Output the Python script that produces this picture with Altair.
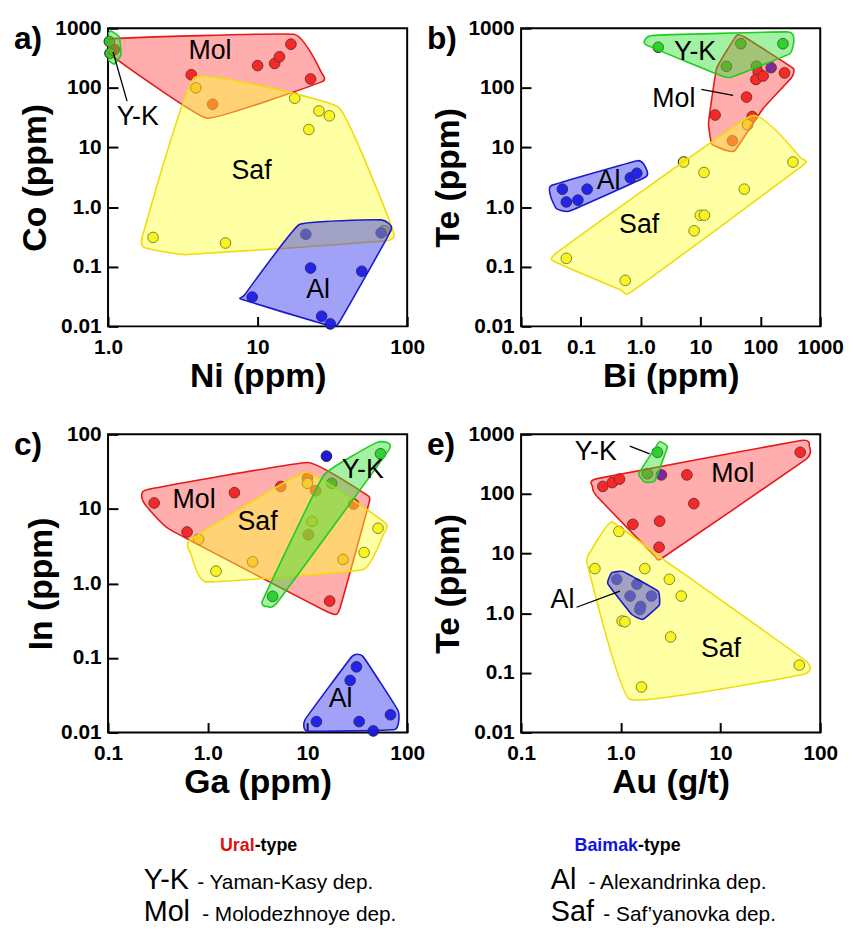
import altair as alt
import pandas as pd

FONT = "Liberation Sans"
GROUPS = ["Mol", "Saf", "Al", "Y-K"]
POINT_COLORS = ["#ee1c1c", "#f2ea14", "#1c1ce0", "#2cc42c"]
POLY_STROKE = {"Mol": "#e61919", "Saf": "#f0dc0a", "Al": "#1a1acc", "Y-K": "#1fcc1f"}
POLY_FILL = {"Mol": "#ff3b3b", "Saf": "#ffff33", "Al": "#2e2eef", "Y-K": "#33e033"}
POLY_OPACITY = {"Mol": 0.42, "Saf": 0.45, "Al": 0.45, "Y-K": 0.45}

# ---------------- panel a) Ni vs Co ----------------
A_PTS = {
    "Mol": ([1.1, 3.6, 5.0, 10, 13, 14, 16.7, 22.6], [440, 166, 53, 236, 257, 333, 540, 141]),
    "Saf": ([3.86, 17.7, 25.7, 30.2, 22, 2.0, 6.1, 70], [100, 67, 41, 34, 20, 0.31, 0.25, 0.40]),
    "Al": ([21, 67, 22.6, 49.7, 9.2, 26.8, 30.6], [0.35, 0.37, 0.095, 0.084, 0.031, 0.0148, 0.011]),
    "Y-K": ([1.02, 1.03], [600, 380]),
}
A_HULL = {
    "Mol": ([1.0, 17.5, 26.8, 26.8, 4.58, 1.05], [660, 790, 178, 126, 31, 355]),
    "Saf": ([3.8, 34.8, 80, 71, 3.38, 1.75, 1.7], [150, 47, 0.42, 0.27, 0.16, 0.21, 0.33]),
    "Al": ([19, 67, 78, 34.8, 29, 7.8, 8.2], [0.51, 0.61, 0.41, 0.0113, 0.0105, 0.0285, 0.034]),
    "Y-K": ([1.05, 1.19, 1.22, 1.1, 1.0, 1.0], [900, 710, 355, 250, 300, 800]),
}
A_LABELS = (["Mol", "Saf", "Al", "Y-K"], [4.8, 9.1, 25.4, 1.58], [410, 4.0, 0.041, 32])
A_LEADERS = ([1.34], [60], [1.08], [400])

# ---------------- panel b) Bi vs Te ----------------
B_PTS = {
    "Y-K": ([1.96, 47, 238, 27, 86], [480, 550, 550, 229, 230]),
    "Mol": ([92, 84, 111, 253, 58.6, 17.5, 73, 34], [183, 138, 158, 178, 70, 35, 33, 13]),
    "Al": ([0.049, 0.057, 0.089, 0.127, 0.67, 0.86, 151], [2.0, 1.22, 1.31, 2.0, 3.1, 3.7, 218]),
    "Saf": ([61, 5.2, 350, 11.4, 53.7, 9.9, 11.6, 7.8, 0.057, 0.55],
            [24, 5.7, 5.7, 3.8, 2.0, 0.73, 0.73, 0.40, 0.138, 0.059]),
}
B_HULL = {
    "Mol": ([40, 55, 350, 330, 111, 37.6, 27, 15.4, 13.6, 18.6], [755, 705, 214, 148, 45, 8.9, 8.9, 11.4, 26, 214]),
    "Saf": ([71, 475, 500, 0.73, 0.46, 0.039, 0.039], [34, 6.6, 4.9, 0.039, 0.041, 0.118, 0.17]),
    "Al": ([0.032, 0.88, 1.21, 1.21, 0.065, 0.039, 0.032], [2.3, 6.0, 4.6, 3.2, 0.86, 0.94, 1.4]),
    "Y-K": ([1.21, 1.55, 288, 361, 306, 33, 22.7], [530, 755, 867, 610, 372, 151, 158]),
}
B_LABELS = (["Y-K", "Mol", "Al", "Saf"], [8.1, 3.57, 0.29, 0.94], [400, 66, 2.7, 0.5])
B_LEADERS = ([10.3], [94], [35], [75])

# ---------------- panel c) Ga vs In ----------------
C_PTS = {
    "Mol": ([0.29, 0.62, 1.85, 5.4, 10, 12.1, 29, 16.7, 10.2], [12, 4.9, 16.5, 20, 26, 17.5, 11.6, 0.58, 4.5]),
    "Saf": ([0.81, 1.21, 2.82, 10, 11.1, 22.7, 37, 51], [3.9, 1.46, 1.95, 22, 6.8, 2.1, 2.6, 5.5]),
    "Y-K": ([4.47, 17.5, 54], [0.67, 22, 55]),
    "Al": ([15.5, 31, 26.8, 12.3, 33, 68, 45.7], [51, 0.076, 0.05, 0.014, 0.014, 0.0173, 0.0105]),
}
C_HULL = {
    "Mol": ([0.244, 10, 38.8, 41.6, 21, 16.2, 0.415, 0.227], [18, 42, 15.6, 12.3, 0.45, 0.41, 5.3, 12.3]),
    "Saf": ([9.6, 61, 58, 35.8, 0.96, 0.68, 0.66], [31, 6.4, 4.6, 1.53, 1.05, 2.46, 3.8]),
    "Al": ([28, 36, 81, 75, 10, 9.5], [0.105, 0.105, 0.0196, 0.011, 0.0104, 0.015]),
    "Y-K": ([50, 66, 5.0, 4.0, 3.55, 14.5], [78, 63, 0.56, 0.49, 0.59, 28]),
}
C_LABELS = (["Mol", "Saf", "Y-K", "Al"], [0.73, 3.16, 35.8, 21.5], [13, 6.7, 33, 0.028])

# ---------------- panel e) Au vs Te ----------------
E_PTS = {
    "Y-K": ([2.33, 1.85], [500, 219]),
    "Al": ([2.55, 0.91, 1.45, 1.24, 2.03, 1.58, 1.55], [209, 3.7, 3.07, 1.94, 1.94, 1.3, 1.15]),
    "Mol": ([0.66, 0.82, 0.97, 4.6, 5.4, 1.32, 2.45, 2.42, 63], [134, 155, 177, 209, 69, 31, 35, 12.8, 500]),
    "Saf": ([0.955, 0.55, 1.74, 3.07, 4.04, 1.03, 1.1, 3.16, 1.61, 61.7],
            [23.5, 5.6, 5.6, 3.7, 1.94, 0.74, 0.72, 0.40, 0.058, 0.135]),
}
E_HULL = {
    "Mol": ([0.52, 0.58, 64, 77.7, 71.8, 2.65, 2.19, 0.56], [134, 181, 790, 635, 381, 8.6, 9.1, 96]),
    "Saf": ([0.81, 2.65, 71.8, 66.5, 1.23, 0.46, 0.5], [34, 8.1, 0.158, 0.094, 0.036, 6.8, 11]),
    "Al": ([0.81, 1.05, 2.36, 2.43, 1.67, 1.28, 0.74], [4.75, 5.0, 2.35, 1.37, 0.79, 0.96, 3.14]),
    "Y-K": ([2.45, 2.93, 2.19, 1.74, 1.51, 2.19], [760, 617, 166, 158, 219, 575]),
}
E_LABELS = (["Y-K", "Mol", "Al", "Saf"], [0.56, 13.3, 0.26, 10.1], [500, 218, 1.64, 0.25])
E_LEADERS = ([1.23, 0.36], [635, 1.26], [1.95, 0.98], [470, 2.35])

TICKS_A_X = [1, 10, 100]
TICKS_5DEC = [0.01, 0.1, 1, 10, 100, 1000]
TICKS_3DEC = [0.1, 1, 10, 100]
TICKS_4DEC = [0.01, 0.1, 1, 10, 100]

# legend texts
TYPE_NAMES = ["Ural", "Baimak"]
TYPE_SUFFIX = "-type"
LEG_ABBR = ["Y-K", "Mol", "Al", "Saf"]
LEG_NAMES = ["- Yaman-Kasy dep.", "- Molodezhnoye dep.", "- Alexandrinka dep.", "- Saf\u2019yanovka dep."]

LABEL_EXPR = ("datum.value < 0.05 ? '0.01' : datum.value < 0.5 ? '0.1' : "
              "datum.value < 5 ? '1.0' : format(datum.value, 'd')")

W, H = 302, 301


def make_axis(ticks, title, is_x):
    return alt.Axis(
        values=ticks, labelExpr=LABEL_EXPR, title=title, grid=False, domain=False,
        ticks=True, tickSize=10, tickWidth=2, tickColor="black", offset=-10,
        labelPadding=10 if is_x else 7, labelFont=FONT, labelFontWeight="bold",
        labelFontSize=21, labelColor="black", labelOverlap=False, labelFlush=False,
        titleFont=FONT, titleFontWeight="bold", titleFontSize=34, titleColor="black",
        titlePadding=3 if is_x else 2,
    )


def pts_frame(d):
    rows = []
    for g, (xs, ys) in d.items():
        for x, y in zip(xs, ys):
            rows.append({"x": x, "y": y, "group": g})
    return pd.DataFrame(rows)


def hull_frame(d):
    rows = []
    for g, (xs, ys) in d.items():
        for i, (x, y) in enumerate(zip(xs, ys)):
            rows.append({"x": x, "y": y, "i": i, "group": g})
    return pd.DataFrame(rows)


def text_layer(txt, x, y, size, bold=False, color="black", align="left", baseline="alphabetic"):
    return alt.Chart(pd.DataFrame({"t": [txt]})).mark_text(
        font=FONT, fontSize=size, fontWeight="bold" if bold else "normal",
        color=color, align=align, baseline=baseline,
    ).encode(text="t:N", x=alt.value(x), y=alt.value(y))


def panel(tag, pts, hulls, labels, leaders, xdom, ydom, xticks, yticks, xtitle, ytitle, extra=()):
    X = alt.X("x:Q", scale=alt.Scale(type="log", domain=xdom, nice=False),
              axis=make_axis(xticks, xtitle, True))
    Y = alt.Y("y:Q", scale=alt.Scale(type="log", domain=ydom, nice=False),
              axis=make_axis(yticks, ytitle, False))
    layers = [
        alt.Chart(pts_frame(pts)).mark_circle(size=115, stroke="#222222", strokeWidth=1, opacity=1).encode(
            x=X, y=Y,
            color=alt.Color("group:N", scale=alt.Scale(domain=GROUPS, range=POINT_COLORS), legend=None),
        )
    ]
    hdf = hull_frame(hulls)
    for g in GROUPS:
        if g in hulls:
            layers.append(
                alt.Chart(hdf).transform_filter(alt.datum.group == g).mark_line(
                    interpolate="cardinal-closed", tension=0.7, fill=POLY_FILL[g],
                    fillOpacity=POLY_OPACITY[g], stroke=POLY_STROKE[g], strokeWidth=1.6, clip=True,
                ).encode(x=X, y=Y, order="i:Q")
            )
    if leaders is not None:
        ldf = pd.DataFrame({"x": leaders[0], "y": leaders[1], "x2": leaders[2], "y2": leaders[3]})
        layers.append(alt.Chart(ldf).mark_rule(color="black", strokeWidth=1.3).encode(
            x=X, y=Y, x2="x2:Q", y2="y2:Q"))
    tdf = pd.DataFrame({"t": labels[0], "x": labels[1], "y": labels[2]})
    layers.append(alt.Chart(tdf).mark_text(font=FONT, fontSize=27, color="black").encode(
        x=X, y=Y, text="t:N"))
    layers.append(text_layer(tag, -95, -4, 32, bold=True, baseline="top"))
    layers.extend(extra)
    return alt.layer(*layers).properties(width=W, height=H)


# legend drawn beneath panel c (coordinates relative to panel c plot area)
legend_layers = [
    text_layer(TYPE_NAMES[0], 148, 421, 18, bold=True, color="#e01010", align="right"),
    text_layer(TYPE_SUFFIX, 148, 421, 18, bold=True, align="left"),
    text_layer(TYPE_NAMES[1], 535, 421, 18, bold=True, color="#1212dd", align="right"),
    text_layer(TYPE_SUFFIX, 535, 421, 18, bold=True, align="left"),
    text_layer(LEG_ABBR[0], 36, 459, 29),
    text_layer(LEG_NAMES[0], 90, 459, 21),
    text_layer(LEG_ABBR[1], 36, 491, 29),
    text_layer(LEG_NAMES[1], 95, 491, 21),
    text_layer(LEG_ABBR[2], 447, 459, 29),
    text_layer(LEG_NAMES[2], 485, 459, 21),
    text_layer(LEG_ABBR[3], 447, 491, 29),
    text_layer(LEG_NAMES[3], 500, 491, 21),
]

pa = panel("a)", A_PTS, A_HULL, A_LABELS, A_LEADERS, [1, 100], [0.01, 1000], TICKS_A_X, TICKS_5DEC,
           "Ni (ppm)", "Co (ppm)")
pb = panel("b)", B_PTS, B_HULL, B_LABELS, B_LEADERS, [0.01, 1000], [0.01, 1000], TICKS_5DEC, TICKS_5DEC,
           "Bi (ppm)", "Te (ppm)")
pc = panel("c)", C_PTS, C_HULL, C_LABELS, None, [0.1, 100], [0.01, 100], TICKS_3DEC, TICKS_4DEC,
           "Ga (ppm)", "In (ppm)", extra=legend_layers)
pe = panel("e)", E_PTS, E_HULL, E_LABELS, E_LEADERS, [0.1, 100], [0.01, 1000], TICKS_3DEC, TICKS_5DEC,
           "Au (g/t)", "Te (ppm)")

chart = alt.concat(pa, pb, pc, pe, columns=2, spacing={"row": 109, "column": 115}, bounds="flush").properties(
    padding={"left": 5, "top": 4, "right": 0, "bottom": 0}
).configure_view(stroke="black", strokeWidth=2)

chart.save("out.html", embed_options={"renderer": "svg", "actions": False})
